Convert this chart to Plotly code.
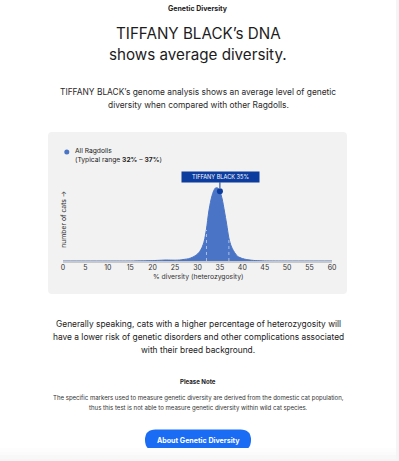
import plotly.graph_objects as go

# ---------------- data ----------------
pct = [0, 5, 10, 15, 18, 20, 22, 23, 24, 25, 26, 27, 28, 29, 30, 30.5, 31, 31.5,
       32, 32.5, 33, 33.5, 34, 34.5, 35, 35.5, 36, 36.5, 37, 37.5, 38, 38.5, 39,
       40, 41, 42, 43, 45, 50, 55, 60]
cats = [0, 0, 0, 0, 0.2, 0.4, 0.8, 1.0, 0.9, 0.8, 1.0, 1.6, 2.3, 4.0, 7.0, 9.5, 13.5, 20,
        32, 49, 61, 69, 73, 73, 69.7, 62, 50, 37, 23, 15, 10.5, 7, 4.5,
        2.5, 1.4, 0.8, 0.4, 0.1, 0, 0, 0]
x_ticks = [0, 5, 10, 15, 20, 25, 30, 35, 40, 45, 50, 55, 60]
range_low, range_high = 32, 37
cat_name = "TIFFANY BLACK"
cat_value = 35

# ---------------- geometry helpers ----------------
W, H = 399, 461
L, R, T, B = 63, 67, 170, 200
PW, PH = W - L - R, H - T - B


def px(xp):
    return (xp - L) / PW


def py(yp):
    return (H - B - yp) / PH


def rrect(x0, y0, x1, y1, r):
    rx, ry = r / PW, r / PH
    a, b, c, d = px(x0), py(y1), px(x1), py(y0)  # left, bottom, right, top in paper
    return (f"M{a+rx},{b} L{c-rx},{b} Q{c},{b} {c},{b+ry} L{c},{d-ry} Q{c},{d} {c-rx},{d} "
            f"L{a+rx},{d} Q{a},{d} {a},{d-ry} L{a},{b+ry} Q{a},{b} {a+rx},{b} Z")


def value_at(x):
    for i in range(len(pct) - 1):
        if pct[i] <= x <= pct[i + 1]:
            t = (x - pct[i]) / (pct[i + 1] - pct[i])
            return cats[i] + t * (cats[i + 1] - cats[i])
    return 0


FONT = "Inter, 'Noto Sans', sans-serif"
FILL = "#4a74c5"
NAVY = "#0b3c9e"

fig = go.Figure()

fig.add_trace(go.Scatter(
    x=pct, y=cats, mode="lines", line=dict(color=FILL, width=1, shape="spline", smoothing=0.8),
    fill="tozeroy", fillcolor=FILL, hoverinfo="skip", showlegend=False))

for v in (range_low, range_high):
    fig.add_trace(go.Scatter(
        x=[v, v], y=[0, value_at(v) - 1], mode="lines",
        line=dict(color="rgba(255,255,255,0.55)", width=1, dash="dot"),
        hoverinfo="skip", showlegend=False))

cat_y = value_at(cat_value)
fig.add_trace(go.Scatter(
    x=[cat_value], y=[cat_y], mode="markers",
    marker=dict(color=NAVY, size=6, line=dict(width=0)),
    hoverinfo="skip", showlegend=False))

shapes = []
# gray panel
shapes.append(dict(type="path", xref="paper", yref="paper", path=rrect(48, 132, 347, 294, 4),
                   fillcolor="#f2f2f2", line=dict(width=0), layer="below"))
# button
shapes.append(dict(type="path", xref="paper", yref="paper", path=rrect(145, 429.5, 251, 450.5, 10.5),
                   fillcolor="#1a6cf5", line=dict(width=0), layer="below"))
# legend dot
shapes.append(dict(type="circle", xref="paper", yref="paper",
                   x0=px(64.3), x1=px(69.3), y0=py(154.5), y1=py(149.5),
                   fillcolor=FILL, line=dict(width=0)))
# connector from label to marker
shapes.append(dict(type="line", xref="x", yref="paper", x0=cat_value, x1=cat_value,
                   y0=py(182.3), y1=py(188), line=dict(color=NAVY, width=1)))
# page edge shading
shapes.append(dict(type="rect", xref="paper", yref="paper", x0=px(396), x1=px(399),
                   y0=py(461), y1=py(0), fillcolor="#f5f5f5", line=dict(width=0), layer="below"))
for i, col in enumerate(["#fdfdfd", "#fbfbfb", "#f8f8f8", "#f5f5f5"]):
    shapes.append(dict(type="rect", xref="paper", yref="paper", x0=px(0), x1=px(396),
                       y0=py(448 + i * 3.5 + 3.5), y1=py(448 + i * 3.5),
                       fillcolor=col, line=dict(width=0), layer="below"))

ann = []


def text(s, x, y, size, color="#222", bold=False, anchor="center"):
    if bold:
        s = f"<b>{s}</b>"
    ann.append(dict(text=s, xref="paper", yref="paper", x=px(x), y=py(y), xanchor=anchor,
                    yanchor="middle", showarrow=False, font=dict(family=FONT, size=size, color=color)))


text("Genetic Diversity", 198, 8, 7, "#222", bold=True)
text(f"{cat_name}’s DNA", 198, 33.5, 15.2, "#1c1c1c")
text("shows average diversity.", 198, 54.5, 15.2, "#1c1c1c")
text(f"{cat_name}’s genome analysis shows an average level of genetic", 198, 92, 8.4, "#2a2a2a")
text("diversity when compared with other Ragdolls.", 198, 105.3, 8.4, "#2a2a2a")

text("All Ragdolls", 72.5, 151.3, 6.7, "#222", anchor="left")
text(f"(Typical range <b>{range_low}%</b> – <b>{range_high}%</b>)", 72.5, 159.7, 6.7, "#222", anchor="left")

ann.append(dict(text="number of cats →", xref="paper", yref="paper", x=px(62.7), y=py(219),
                textangle=-90, showarrow=False, xanchor="center", yanchor="middle",
                font=dict(family=FONT, size=6.8, color="#333")))
text("% diversity (heterozygosity)", 198, 276.5, 6.8, "#333")

ann.append(dict(text=f"{cat_name} {cat_value}%", xref="x", yref="paper", x=cat_value, y=py(177.3),
                xanchor="center", yanchor="middle", showarrow=False, bgcolor=NAVY,
                width=75, height=8, borderpad=1, xshift=0.8,
                font=dict(family=FONT, size=5.6, color="white")))

text("Generally speaking, cats with a higher percentage of heterozygosity will", 198, 324.3, 8.4, "#222")
text("have a lower risk of genetic disorders and other complications associated", 198, 336.8, 8.4, "#222")
text("with their breed background.", 198, 350, 8.4, "#222")

text("Please Note", 198, 381.7, 6.1, "#222", bold=True)
text("The specific markers used to measure genetic diversity are derived from the domestic cat population,",
     198, 397.7, 6.05, "#333")
text("thus this test is not able to measure genetic diversity within wild cat species.", 198, 408.3, 6.05, "#333")

text("About Genetic Diversity", 198, 440, 7.1, "white", bold=True)

fig.update_layout(
    width=W, height=H, autosize=False,
    margin=dict(l=L, r=R, t=T, b=B),
    paper_bgcolor="white", plot_bgcolor="rgba(0,0,0,0)",
    shapes=shapes, annotations=ann,
    xaxis=dict(range=[0, 60], tickvals=x_ticks, ticktext=[str(t) for t in x_ticks],
               showgrid=False, zeroline=False, showline=True, linecolor="#c8c8c8", linewidth=2,
               ticks="", ticklabelstandoff=-1,
               tickfont=dict(family=FONT, size=7, color="#333"), fixedrange=True),
    yaxis=dict(range=[0, PH], showgrid=False, zeroline=False, showticklabels=False,
               showline=False, fixedrange=True),
    font=dict(family=FONT),
)

fig.write_html("out.html", config={"displayModeBar": False},
               post_script="document.body.style.margin='0';document.body.style.overflow='hidden';")
